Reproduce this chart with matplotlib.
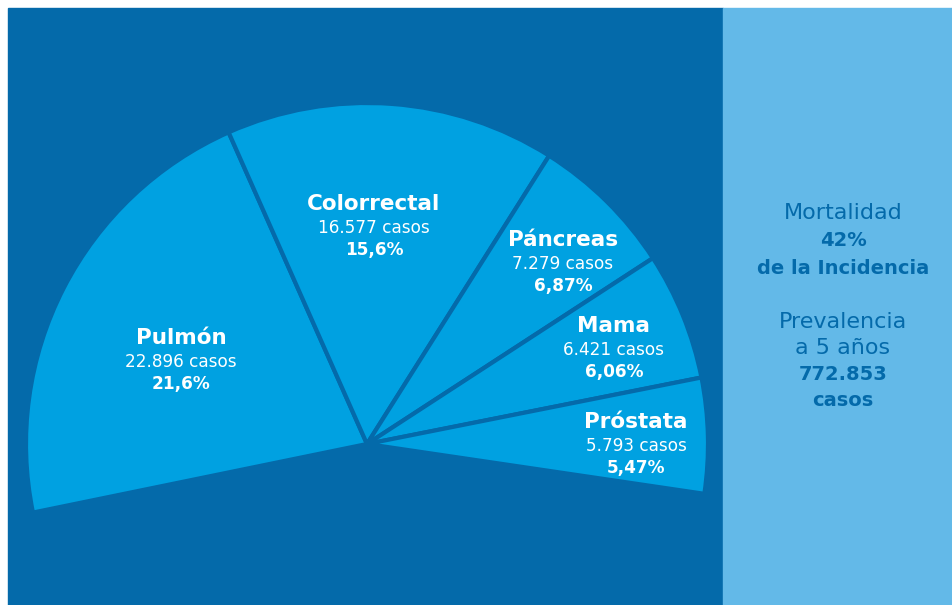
import matplotlib
matplotlib.use("Agg")
import matplotlib.pyplot as plt
import numpy as np

# ---- data ----
categories = ["Pulmón", "Colorrectal", "Páncreas", "Mama", "Próstata"]
cases = [22896, 16577, 7279, 6421, 5793]
case_labels = ["22.896 casos", "16.577 casos", "7.279 casos", "6.421 casos", "5.793 casos"]
pct_labels = ["21,6%", "15,6%", "6,87%", "6,06%", "5,47%"]
side_lines = ["Mortalidad", "42%", "de la Incidencia", "", "Prevalencia", "a 5 años", "772.853", "casos"]
side_bold = [False, True, True, False, False, False, True, True]

# ---- style ----
DARK = "#046AAA"
WEDGE = "#00A1E1"
LIGHT = "#63B9E8"
FONT = ["DejaVu Sans"]

W, H = 953, 605
fig = plt.figure(figsize=(W / 100, H / 100), dpi=100)
fig.patch.set_facecolor("white")
ax = fig.add_axes([0, 0, 1, 1])
ax.set_axis_off()

# background panels (pixel coordinates, y measured from bottom)
ax.add_patch(plt.Rectangle((8, 0), 715, H - 8, color=DARK, zorder=0))
ax.add_patch(plt.Rectangle((723, 0), W - 723, H - 8, color=LIGHT, zorder=0))

# fan: the five wedges span 200 degrees in total
span = 200.0
fracs = np.array(cases) / sum(cases) * span / 360.0
ax.pie(fracs, normalize=False, counterclock=False, startangle=191.6,
       center=(367, H - 444), radius=341, frame=True,
       colors=[WEDGE] * len(cases),
       wedgeprops=dict(edgecolor=DARK, linewidth=3.0, zorder=1))

ax.set_xlim(0, W)
ax.set_ylim(0, H)
ax.set_aspect("auto")
ax.set_axis_off()

# labels positions (pixel coordinates, image y)
label_pos = [(181, 338), (374, 204), (563, 240), (614, 326), (636, 422)]
for name, c, p, (x, y) in zip(categories, case_labels, pct_labels, label_pos):
    ax.text(x, H - y, name, ha="center", va="center", color="white",
            fontsize=15.5, fontweight="bold", family=FONT)
    ax.text(x, H - (y + 24), c, ha="center", va="center", color="white",
            fontsize=12.2, fontweight="normal", family=FONT)
    ax.text(x, H - (y + 46), p, ha="center", va="center", color="white",
            fontsize=12.2, fontweight="bold", family=FONT)

side_y = [213, 241, 268, 295, 322, 348, 374, 400]
for t, b, y in zip(side_lines, side_bold, side_y):
    if t:
        ax.text(843, H - y, t, ha="center", va="center", color=DARK,
                fontsize=14 if b else 16, fontweight="bold" if b else "normal",
                family=FONT)

fig.savefig("out.png", dpi=100, facecolor="white")
